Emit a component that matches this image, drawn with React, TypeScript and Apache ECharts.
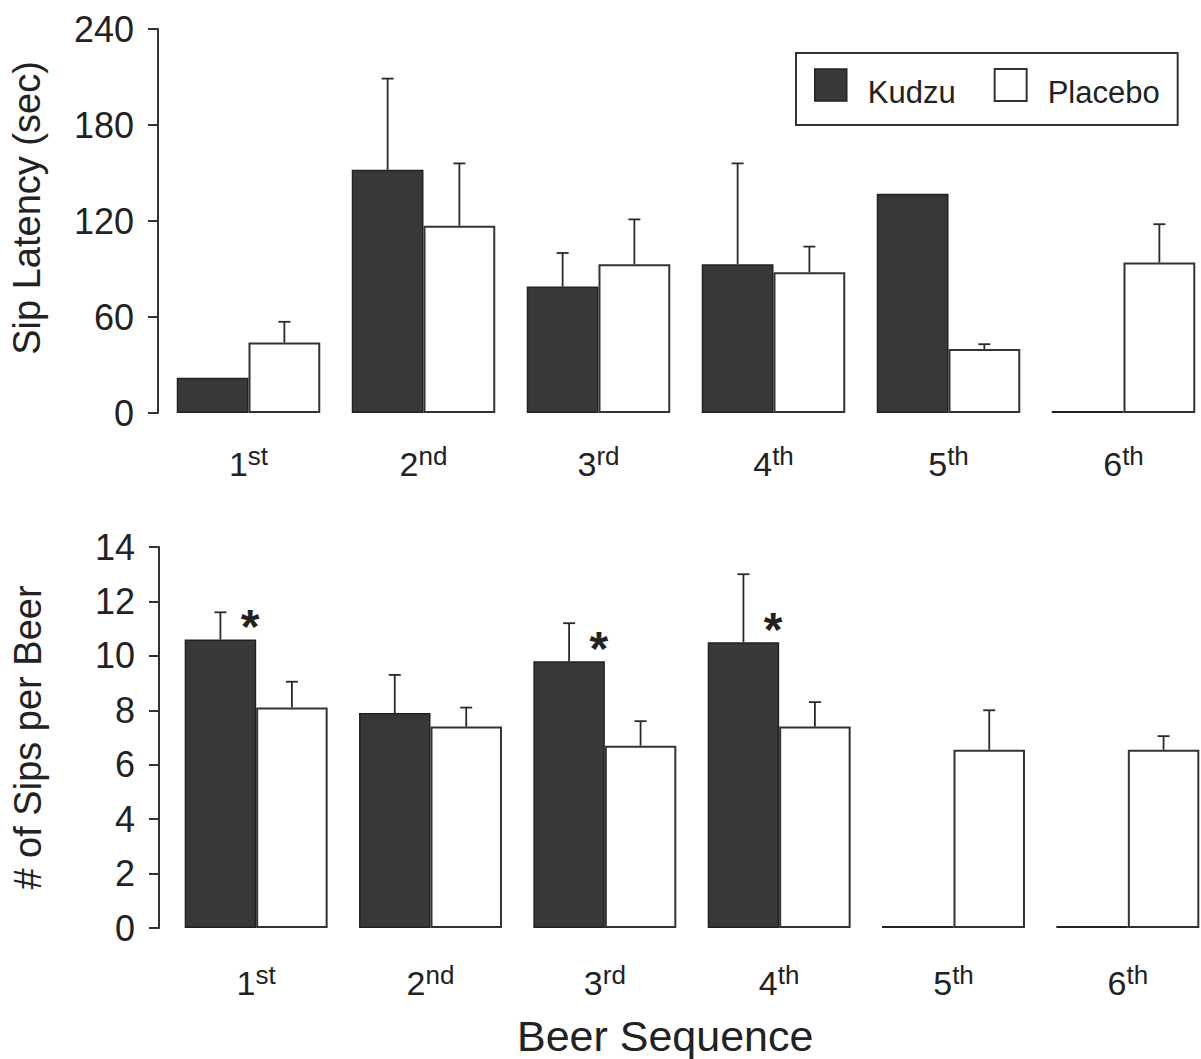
import React, { useEffect, useRef } from 'react';
import * as echarts from 'echarts';

const categories = ['1st', '2nd', '3rd', '4th', '5th', '6th'];
const seriesNames = ['Kudzu', 'Placebo'];

// Top panel: Sip latency (sec); error arrays hold the top of each (upward) error bar
const latencyKudzu = [22, 152, 79, 93, 137, 0];
const latencyKudzuErr = [null, 209, 100, 156, null, null];
const latencyPlacebo = [44, 117, 93, 88, 40, 94];
const latencyPlaceboErr = [57, 156, 121, 104, 43, 118];
const latencyTicks = [0, 60, 120, 180, 240];

// Bottom panel: number of sips per beer
const sipsKudzu = [10.6, 7.9, 9.8, 10.5, 0, 0];
const sipsKudzuErr = [11.6, 9.3, 11.2, 13.0, null, null];
const sipsPlacebo = [8.1, 7.4, 6.7, 7.4, 6.55, 6.55];
const sipsPlaceboErr = [9.05, 8.1, 7.6, 8.3, 8.0, 7.05];
const sipsSignificant = [true, false, true, true, false, false];
const sipsTicks = [0, 2, 4, 6, 8, 10, 12, 14];

const FONT = '"Liberation Sans", Arial, Helvetica, sans-serif';
const INK = '#222';
const KUDZU_FILL = '#383838';
const BAR_FRAC = 0.41;
// square swatch sitting in the upper part of a taller legend item box
const LEGEND_ICON = 'path://M0,0 L32,0 L32,32 L0,32 Z M0,46 L0,46';

function errData(err: (number | null)[], mean: number[]) {
  const out: number[][] = [];
  err.forEach((e, i) => {
    if (e !== null && e !== undefined) out.push([i, e, mean[i]]);
  });
  return out;
}

function sigData(sig: boolean[], mean: number[]) {
  const out: number[][] = [];
  sig.forEach((s, i) => {
    if (s) out.push([i, mean[i]]);
  });
  return out;
}

function makeErrRender(sign: number) {
  return (params: any, api: any) => {
    const i = api.value(0);
    const top = api.coord([i, api.value(1)]);
    const base = api.coord([i, api.value(2)]);
    const band = api.size([1, 0])[0];
    const x = top[0] + (sign * band * BAR_FRAC) / 2;
    const style = { stroke: '#2a2a2a', lineWidth: 1.8 };
    return {
      type: 'group',
      children: [
        { type: 'line', shape: { x1: x, y1: base[1], x2: x, y2: top[1] }, style },
        { type: 'line', shape: { x1: x - 6, y1: top[1], x2: x + 6, y2: top[1] }, style },
      ],
    };
  };
}

function starRender(params: any, api: any) {
  const i = api.value(0);
  const p = api.coord([i, api.value(1)]);
  return {
    type: 'text',
    style: {
      text: '*',
      x: p[0] - 6,
      y: p[1] - 13,
      fill: INK,
      fontSize: 48,
      fontWeight: 'bold',
      fontFamily: FONT,
      align: 'center',
      verticalAlign: 'middle',
    },
  };
}

const catLabel = {
  fontFamily: FONT,
  color: INK,
  formatter: (v: string) => {
    const m = v.match(/^(\d+)(\D+)$/);
    return m ? `{n|${m[1]}}{s|${m[2]}}` : v;
  },
  rich: {
    n: { fontSize: 34, fontFamily: FONT, color: INK },
    s: { fontSize: 26, fontFamily: FONT, color: INK, padding: [0, 0, 16, 0] },
  },
};

function yAxisBase(ticks: number[], gridIndex: number, offset: number, name: string, namePad: number[]) {
  return {
    gridIndex,
    type: 'value',
    min: ticks[0],
    max: ticks[ticks.length - 1],
    interval: ticks[1] - ticks[0],
    offset,
    axisLine: { show: true, lineStyle: { color: '#333', width: 2 } },
    axisTick: { show: true, length: 10, lineStyle: { color: '#333', width: 2 } },
    axisLabel: { fontSize: 36, color: INK, margin: 24, fontFamily: FONT },
    splitLine: { show: false },
    name,
    nameLocation: 'middle',
    nameRotate: 90,
    nameGap: 112,
    nameTextStyle: { fontSize: 38, color: INK, fontFamily: FONT, padding: namePad },
  };
}

function xAxisBase(gridIndex: number, margin: number) {
  return {
    gridIndex,
    type: 'category',
    data: categories,
    axisLine: { show: false },
    axisTick: { show: false },
    axisLabel: { ...catLabel, margin },
  };
}

const kudzuStyle = { color: KUDZU_FILL, borderColor: '#222', borderWidth: 1.5 };
const placeboStyle = { color: '#ffffff', borderColor: '#333', borderWidth: 2 };

export default function App() {
  const ref = useRef<HTMLDivElement>(null);

  useEffect(() => {
    if (!ref.current) return;
    const chart = echarts.init(ref.current, null, { renderer: 'svg' });
    const option: any = {
      animation: false,
      backgroundColor: '#ffffff',
      textStyle: { fontFamily: FONT },
      title: {
        text: 'Beer Sequence',
        left: 512,
        top: 1009,
        textStyle: { fontSize: 43, fontWeight: 'normal', color: INK, fontFamily: FONT },
      },
      legend: {
        data: [
          { name: seriesNames[0], itemStyle: kudzuStyle, icon: LEGEND_ICON },
          { name: seriesNames[1], itemStyle: placeboStyle, icon: LEGEND_ICON },
        ],
        selectedMode: false,
        left: 796,
        top: 53,
        orient: 'horizontal',
        itemWidth: 32,
        itemHeight: 46,
        itemGap: 38,
        padding: [15, 18, 9, 18],
        borderColor: '#333',
        borderWidth: 2,
        textStyle: { fontSize: 31, color: INK, fontFamily: FONT, padding: [0, 0, 0, 16] },
      },
      grid: [
        { left: 161, width: 1050, top: 29, bottom: 646, outerBoundsMode: 'none', containLabel: false },
        { left: 169, width: 1046, top: 547, bottom: 131, outerBoundsMode: 'none', containLabel: false },
      ],
      xAxis: [xAxisBase(0, 30), xAxisBase(1, 34)],
      yAxis: [
        yAxisBase(latencyTicks, 0, 3, 'Sip Latency (sec)', [0, 0, 0, 26]),
        yAxisBase(sipsTicks, 1, 10, '# of Sips per Beer', [0, 0, 0, 0]),
      ],
      series: [
        {
          name: seriesNames[0], type: 'bar', xAxisIndex: 0, yAxisIndex: 0,
          data: latencyKudzu, barWidth: `${BAR_FRAC * 100}%`, barGap: '0%', barMinHeight: 2,
          itemStyle: kudzuStyle,
        },
        {
          name: seriesNames[1], type: 'bar', xAxisIndex: 0, yAxisIndex: 0,
          data: latencyPlacebo, barWidth: `${BAR_FRAC * 100}%`, barGap: '0%',
          itemStyle: placeboStyle,
        },
        {
          name: seriesNames[0], type: 'bar', xAxisIndex: 1, yAxisIndex: 1,
          data: sipsKudzu, barWidth: `${BAR_FRAC * 100}%`, barGap: '0%', barMinHeight: 2,
          itemStyle: kudzuStyle,
        },
        {
          name: seriesNames[1], type: 'bar', xAxisIndex: 1, yAxisIndex: 1,
          data: sipsPlacebo, barWidth: `${BAR_FRAC * 100}%`, barGap: '0%',
          itemStyle: placeboStyle,
        },
        {
          type: 'custom', xAxisIndex: 0, yAxisIndex: 0, silent: true, z: 5,
          renderItem: makeErrRender(-1), data: errData(latencyKudzuErr, latencyKudzu),
        },
        {
          type: 'custom', xAxisIndex: 0, yAxisIndex: 0, silent: true, z: 5,
          renderItem: makeErrRender(1), data: errData(latencyPlaceboErr, latencyPlacebo),
        },
        {
          type: 'custom', xAxisIndex: 1, yAxisIndex: 1, silent: true, z: 5,
          renderItem: makeErrRender(-1), data: errData(sipsKudzuErr, sipsKudzu),
        },
        {
          type: 'custom', xAxisIndex: 1, yAxisIndex: 1, silent: true, z: 5,
          renderItem: makeErrRender(1), data: errData(sipsPlaceboErr, sipsPlacebo),
        },
        {
          type: 'custom', xAxisIndex: 1, yAxisIndex: 1, silent: true, z: 6,
          renderItem: starRender, data: sigData(sipsSignificant, sipsKudzu),
        },
      ],
    };
    chart.setOption(option);
    return () => chart.dispose();
  }, []);

  return (
    <div
      ref={ref}
      style={{ position: 'absolute', left: 0, top: 0, width: 1201, height: 1059, background: '#fff' }}
    />
  );
}
